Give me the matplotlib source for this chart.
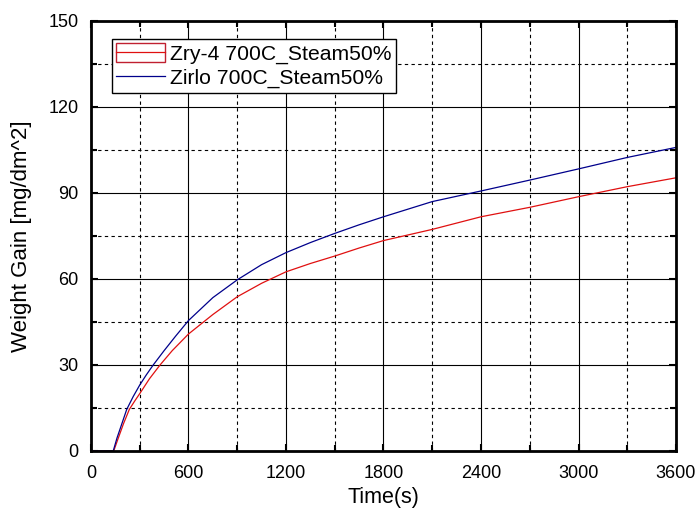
import matplotlib
matplotlib.use("Agg")
import matplotlib.pyplot as plt
from matplotlib.lines import Line2D
from matplotlib.patches import Patch
from matplotlib.ticker import MultipleLocator

plt.rcParams["font.family"] = ["Liberation Sans", "DejaVu Sans"]

# tempo (s) e ganho de massa (mg/dm^2)
t_zry = [0, 140, 165, 200, 236, 270, 300, 360, 425, 500, 600, 750, 900, 1050, 1200,
         1350, 1500, 1650, 1800, 2100, 2400, 2700, 3000, 3300, 3600]
w_zry = [0, 0, 4.0, 9.5, 14.5, 17.5, 20.0, 25.2, 30.0, 35.0, 40.8, 47.6, 53.8, 58.5, 62.5,
         65.4, 68.0, 70.8, 73.4, 77.3, 81.7, 85.0, 88.7, 92.2, 95.3]

t_zirlo = [0, 137, 160, 190, 220, 260, 300, 340, 383, 450, 520, 600, 750, 900, 1050, 1200,
           1350, 1500, 1650, 1800, 2100, 2400, 2700, 3000, 3300, 3600]
w_zirlo = [0, 0, 4.5, 9.5, 14.5, 19.0, 23.0, 26.5, 30.0, 35.0, 40.0, 45.5, 53.5, 59.7, 65.0, 69.2,
           72.7, 75.9, 78.9, 81.7, 87.0, 90.7, 94.5, 98.4, 102.4, 105.9]

lab_zry = "Zry-4 700C_Steam50%"
lab_zirlo = "Zirlo 700C_Steam50%"

fig = plt.figure(figsize=(6.96, 5.17), dpi=100)
ax = fig.add_axes([0.1307, 0.1277, 0.8406, 0.8317])

ax.plot(t_zry, w_zry, color="#e01010", lw=0.9)
ax.plot(t_zirlo, w_zirlo, color="#00008b", lw=0.9)

ax.set_xlim(0, 3600)
ax.set_ylim(0, 150)
ax.xaxis.set_major_locator(MultipleLocator(600))
ax.xaxis.set_minor_locator(MultipleLocator(300))
ax.yaxis.set_major_locator(MultipleLocator(30))
ax.yaxis.set_minor_locator(MultipleLocator(15))

ax.grid(which="major", color="black", lw=0.8, ls="-")
ax.grid(which="minor", color="black", lw=0.8, ls=(0, (3, 3)))
ax.set_axisbelow(True)

ax.tick_params(which="both", direction="in", top=True, right=True,
               labelsize=13, width=1.5, color="black")
ax.tick_params(which="major", length=5)
ax.tick_params(which="minor", length=4)
ax.tick_params(axis="y", pad=9)
ax.tick_params(axis="x", pad=10)
for sp in ax.spines.values():
    sp.set_linewidth(2)

ax.set_xlabel("Time(s)", fontsize=15.5, labelpad=4)
ax.set_ylabel("Weight Gain [mg/dm^2]", fontsize=16, labelpad=12)

h1 = (Patch(facecolor="none", edgecolor="#c02030", lw=1.0),
      Line2D([], [], color="#e01010", lw=0.9))
h2 = Line2D([], [], color="#00008b", lw=0.9)
leg = ax.legend([h1, h2], [lab_zry, lab_zirlo], loc="upper left",
                bbox_to_anchor=(0.036, 0.958), fontsize=15.2, frameon=True,
                fancybox=False, framealpha=1, edgecolor="black",
                borderpad=0.2, handlelength=2.3, handleheight=1.0,
                handletextpad=0.25, labelspacing=0.15, borderaxespad=0)
leg.get_frame().set_linewidth(1.0)

fig.savefig("out.png", dpi=100)
